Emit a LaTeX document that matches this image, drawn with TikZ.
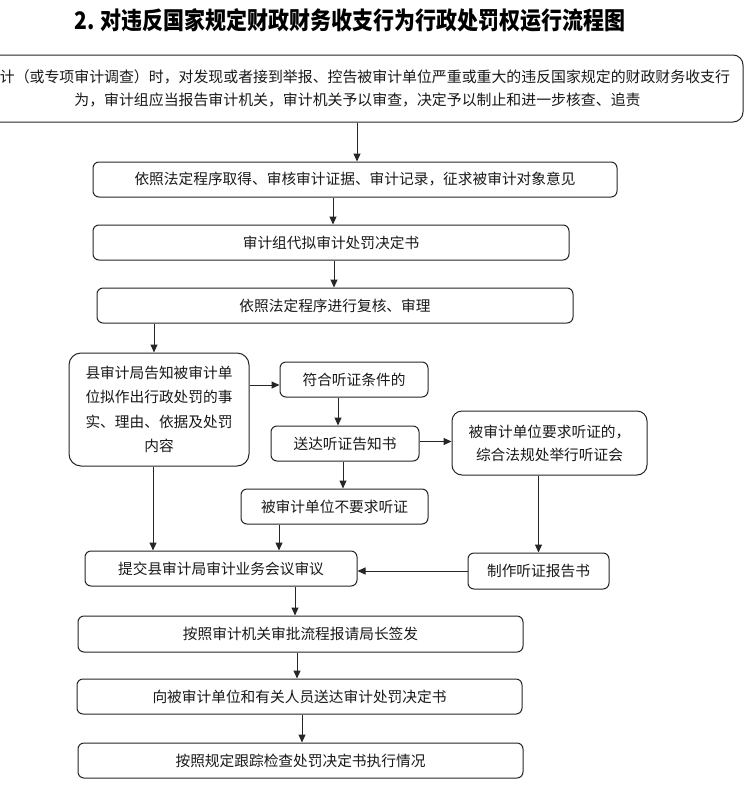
\documentclass[tikz,border=0pt]{standalone}
\usepackage{fontspec}
\usepackage{graphicx}
\newfontfamily\cjk{Noto Sans CJK SC}
\usetikzlibrary{arrows.meta}
\begin{document}
\begin{tikzpicture}[x=1pt,y=-1pt,
  box/.style={draw=black!85, line width=1pt, rounded corners=6pt, inner sep=0pt,
    align=center, text=black!90, font=\cjk\fontsize{14.7}{24.5}\selectfont},
  arr/.style={draw=black!85, line width=1pt, -{Triangle[length=8pt,width=7pt]}}
]
\useasboundingbox (0,0) rectangle (750,785);
\fill[white] (0,0) rectangle (750,785);

% title
\node (title) at (350,20) {\scalebox{1}[1.15]{\cjk\bfseries\fontsize{21}{24}\selectfont 2. 对违反国家规定财政财务收支行为行政处罚权运行流程图}};

% boxes
\node[box, rounded corners=10pt, minimum width=771pt, minimum height=67pt,
  font=\cjk\fontsize{14.9}{23}\selectfont] (top) at (357.5,88.5)
  {审计（或专项审计调查）时，对发现或者接到举报、控告被审计单位严重或重大的违反国家规定的财政财务收支行\\为，审计组应当报告审计机关，审计机关予以审查，决定予以制止和进一步核查、追责};
\node[box, minimum width=524pt, minimum height=35pt] (B) at (355,179.5)
  {依照法定程序取得、审核审计证据、审计记录，征求被审计对象意见};
\node[box, minimum width=476pt, minimum height=35pt] (C) at (331,242.5)
  {审计组代拟审计处罚决定书};
\node[box, minimum width=476pt, minimum height=35pt] (D) at (335,305.5)
  {依照法定程序进行复核、审理};
\node[box, rounded corners=12pt, minimum width=180pt, minimum height=113pt] (E) at (159,409.5)
  {县审计局告知被审计单\\位拟作出行政处罚的事\\实、理由、依据及处罚\\内容};
\node[box, minimum width=148pt, minimum height=35pt] (F) at (354,379.5)
  {符合听证条件的};
\node[box, minimum width=148pt, minimum height=35pt] (G) at (345,443.5)
  {送达听证告知书};
\node[box, minimum width=187pt, minimum height=35pt] (H) at (334.5,506.5)
  {被审计单位不要求听证};
\node[box, rounded corners=10pt, minimum width=195pt, minimum height=64pt,
  font=\cjk\fontsize{14.7}{23}\selectfont] (K) at (549.5,443)
  {被审计单位要求听证的，\\综合法规处举行听证会};
\node[box, minimum width=272pt, minimum height=35pt] (I) at (221,568.5)
  {提交县审计局审计业务会议审议};
\node[box, minimum width=141pt, minimum height=36pt] (L) at (538.5,571)
  {制作听证报告书};
\node[box, minimum width=445pt, minimum height=36pt] (J) at (300.5,634)
  {按照审计机关审批流程报请局长签发};
\node[box, minimum width=445pt, minimum height=35pt] (M) at (299.5,696.5)
  {向被审计单位和有关人员送达审计处罚决定书};
\node[box, minimum width=445pt, minimum height=35pt] (N) at (300.5,760.5)
  {按照规定跟踪检查处罚决定书执行情况};

% helper points
\coordinate (fw) at ([yshift=-5.5pt]F.west);
\coordinate (ge) at ([yshift=2pt]G.east);

% connectors
\draw[arr] ([xshift=2pt]B.north |- top.south) -- ([xshift=2pt]B.north);
\draw[arr] ([xshift=2pt]C.north |- B.south) -- ([xshift=2pt]C.north);
\draw[arr] ([xshift=-1pt]D.north |- C.south) -- ([xshift=-1pt]D.north);
\draw[arr] ([xshift=-5pt]E.north |- D.south) -- ([xshift=-5pt]E.north);
\draw[arr] (E.east |- fw) -- (fw);
\draw[arr] ([xshift=-7pt]G.north |- F.south) -- ([xshift=-7pt]G.north);
\draw[arr] ([xshift=8.5pt]H.north |- G.south) -- ([xshift=8.5pt]H.north);
\draw[arr] (ge) -- (K.west |- ge);
\draw[arr] ([xshift=-6pt]E.south) -- ([xshift=-6pt]E.south |- I.north);
\draw[arr] ([xshift=-55.5pt]H.south) -- ([xshift=-55.5pt]H.south |- I.north);
\draw[arr] (L.north |- K.south) -- (L.north);
\draw[arr] (L.west) -- (I.east |- L.west);
\draw[arr] ([xshift=-5.5pt]J.north |- I.south) -- ([xshift=-5.5pt]J.north);
\draw[arr] ([xshift=-2.5pt]M.north |- J.south) -- ([xshift=-2.5pt]M.north);
\draw[arr] ([xshift=1.5pt]N.north |- M.south) -- ([xshift=1.5pt]N.north);
\end{tikzpicture}
\end{document}
